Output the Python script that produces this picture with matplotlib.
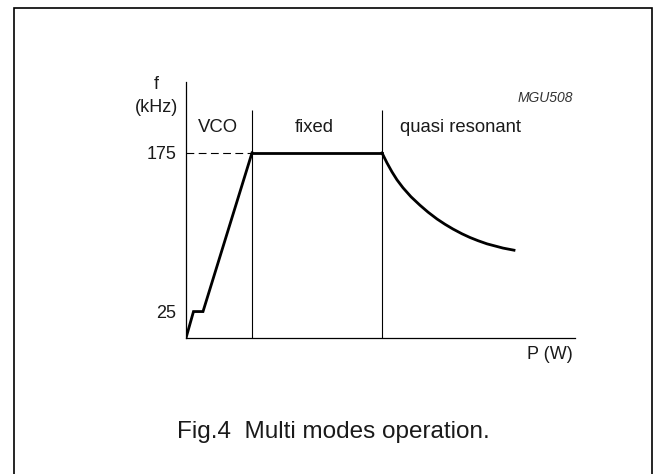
import matplotlib
matplotlib.use("Agg")
import matplotlib.pyplot as plt
from matplotlib.patches import Rectangle

# schematic P axis (arbitrary units) and frequency in kHz
p_vco = [0, 7.5, 17, 66]
f_vco = [0, 25, 25, 175]
p_fixed = [66, 196]
f_fixed = [175, 175]
p_qr = [196, 201, 206, 211, 217, 225, 234, 242, 251, 259, 267, 276, 284, 292, 301, 309, 317, 328]
f_qr = [175, 165.5, 157, 149.5, 142, 133.5, 125.5, 119, 112.5, 107.5, 103, 98.5, 95, 92, 89, 87, 85, 83]
mode_edges = [66, 196]
mode_names = ["VCO", "fixed", "quasi resonant"]
ytick_vals = [25, 175]
ytick_labels = ["25", "175"]

plt.rcParams["font.family"] = ["Liberation Sans", "DejaVu Sans"]
txt = "#1a1a1a"

fig = plt.figure(figsize=(6.55, 4.74), dpi=100)
ax = fig.add_axes([186 / 655, 1 - 338 / 474, 389 / 655, 256 / 474])

ax.plot(p_vco, f_vco, color="black", lw=2.0, solid_joinstyle="miter")
ax.plot(p_fixed, f_fixed, color="black", lw=2.0)
ax.plot(p_qr, f_qr, color="black", lw=2.0, solid_joinstyle="round")

ax.vlines(mode_edges, 0, 216, color="black", lw=0.8)
ax.hlines(175, 0, mode_edges[0], color="black", lw=0.8, linestyles=(0, (7, 4)))

ax.set_xlim(0, 389)
ax.set_ylim(0, 242)
ax.set_xticks([])
ax.set_yticks(ytick_vals)
ax.set_yticklabels(ytick_labels, fontsize=13, color=txt)
ax.tick_params(axis="y", length=0, pad=7)
for side in ["top", "right"]:
    ax.spines[side].set_visible(False)
for side in ["left", "bottom"]:
    ax.spines[side].set_linewidth(0.9)

ax.text(31.5, 199, mode_names[0], ha="center", va="center", fontsize=13.3, color=txt)
ax.text(128, 199, mode_names[1], ha="center", va="center", fontsize=13.3, color=txt)
ax.text(214, 199, mode_names[2], ha="left", va="center", fontsize=13.3, color=txt)
ax.text(359, 227, "MGU508", ha="center", va="center", fontsize=10, style="italic", color="#333333")
ax.text(-30, 240, "f", ha="center", va="center", fontsize=13, color=txt, clip_on=False)
ax.text(-30, 217.5, "(kHz)", ha="center", va="center", fontsize=13, color=txt, clip_on=False)
ax.text(387, -16, "P (W)", ha="right", va="center", fontsize=13, color=txt, clip_on=False)

fig.text(333 / 655, 1 - 432 / 474, "Fig.4  Multi modes operation.", ha="center", va="center",
         fontsize=17.5, color=txt)

fig.patches.append(Rectangle((14 / 655, -0.02), (652 - 14) / 655, 1 - 8 / 474 + 0.02,
                             transform=fig.transFigure, fill=False, lw=1.2, edgecolor="black"))

fig.savefig("out.png", dpi=100)
